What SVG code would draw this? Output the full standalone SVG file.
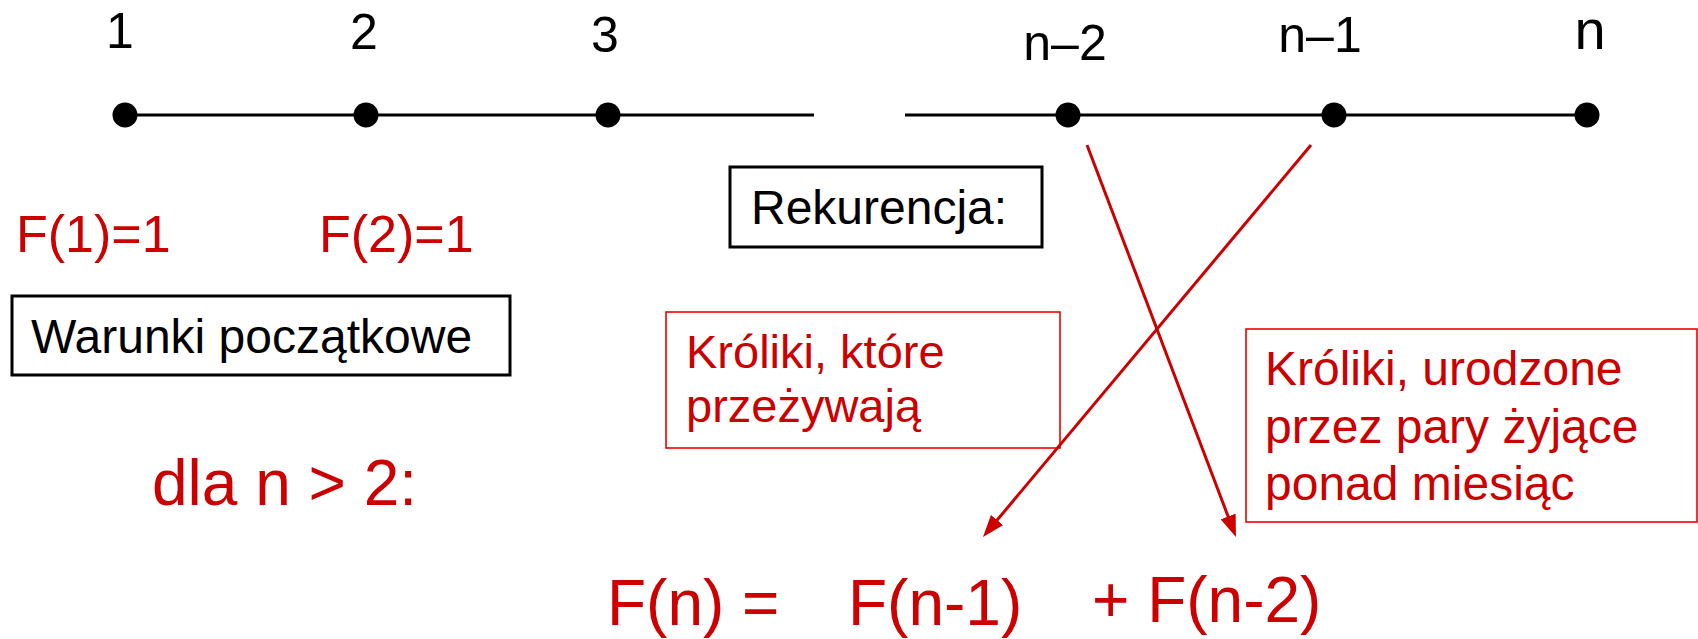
<svg xmlns="http://www.w3.org/2000/svg" width="1698" height="639" viewBox="0 0 1698 639">
  <style>
    text { font-family: "Liberation Sans", Arial, sans-serif; }
    .lbl { font-size: 50px; fill: #000; text-anchor: middle; }
    .blk { font-size: 48px; fill: #000; }
    .red { fill: #CC0000; }
    .bbox { fill: #fff; stroke: #000; stroke-width: 3; }
    .rbox { fill: none; stroke: #F00000; stroke-width: 1.6; }
    .axis { stroke: #000; stroke-width: 3; }
    .dot { fill: #000; }
    .arr { stroke: #CC0000; stroke-width: 3; fill: none; marker-end: url(#ah); }
    .note { font-size: 47px; }
  </style>
  <defs>
    <marker id="ah" markerUnits="userSpaceOnUse" viewBox="0 0 22 16" refX="12" refY="8" markerWidth="22" markerHeight="16" orient="auto">
      <path d="M0,0 L22,8 L0,16 z" fill="#CC0000"/>
    </marker>
  </defs>
  <rect width="1698" height="639" fill="#fff"/>

  <g id="axis">
    <line class="axis" x1="125" y1="115" x2="814" y2="115"/>
    <line class="axis" x1="905" y1="115" x2="1587" y2="115"/>
  </g>

  <g id="node-1"><circle class="dot" cx="125" cy="115" r="12.5"/><text class="lbl" x="120" y="48">1</text></g>
  <g id="node-2"><circle class="dot" cx="366" cy="115" r="12.5"/><text class="lbl" x="364" y="49">2</text></g>
  <g id="node-3"><circle class="dot" cx="608" cy="115" r="12.5"/><text class="lbl" x="605" y="52">3</text></g>
  <g id="node-n2"><circle class="dot" cx="1068" cy="115" r="12.5"/><text class="lbl" x="1065" y="60">n–2</text></g>
  <g id="node-n1"><circle class="dot" cx="1334" cy="115" r="12.5"/><text class="lbl" x="1320" y="52">n–1</text></g>
  <g id="node-n"><circle class="dot" cx="1587" cy="115" r="12.5"/><text class="lbl" x="1590" y="49" style="font-size:56px">n</text></g>

  <g id="f1"><text class="red" x="16" y="252" style="font-size:52px">F(1)=1</text></g>
  <g id="f2"><text class="red" x="319" y="252" style="font-size:52px">F(2)=1</text></g>

  <g id="warunki">
    <rect class="bbox" x="12" y="296" width="498" height="79"/>
    <text class="blk" x="31" y="353">Warunki początkowe</text>
  </g>

  <g id="rekurencja">
    <rect class="bbox" x="730" y="167" width="312" height="80"/>
    <text class="blk" x="751" y="224">Rekurencja:</text>
  </g>

  <g id="dla"><text class="red" x="152" y="505" style="font-size:64px">dla n &gt; 2:</text></g>

  <g id="box-przezywaja">
    <rect class="rbox" x="666" y="312" width="394" height="136"/>
    <text class="red note" x="686" y="368">Króliki, które</text>
    <text class="red note" x="686" y="422">przeżywają</text>
  </g>

  <g id="box-urodzone">
    <rect class="rbox" x="1246" y="329" width="451" height="193"/>
    <text class="red note" x="1265" y="385" style="font-size:48px">Króliki, urodzone</text>
    <text class="red note" x="1265" y="443" style="font-size:48px">przez pary żyjące</text>
    <text class="red note" x="1265" y="500" style="font-size:48px">ponad miesiąc</text>
  </g>

  <g id="formula">
    <text class="red" x="607" y="625" style="font-size:64px">F(n) =</text>
    <text class="red" x="848" y="625" style="font-size:64px">F(n-1)</text>
    <text class="red" x="1092" y="622" style="font-size:64px">+ F(n-2)</text>
  </g>

  <g id="connectors">
    <line class="arr" x1="1311" y1="145" x2="989.4" y2="529.3"/>
    <line class="arr" x1="1087" y1="145" x2="1232.4" y2="527.7"/>
  </g>
</svg>
